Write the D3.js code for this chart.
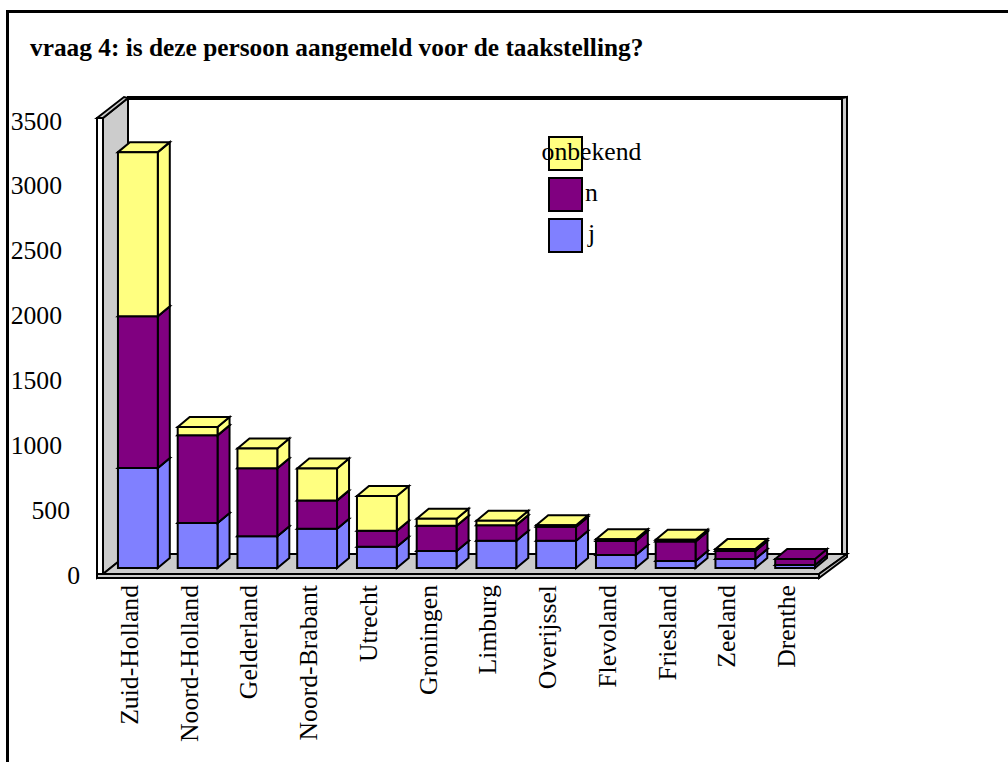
<!DOCTYPE html>
<html>
<head>
<meta charset="utf-8">
<script src="https://cdn.jsdelivr.net/npm/d3@7"></script>
<style>
  html, body { margin: 0; padding: 0; background: #fff; overflow: hidden; }
  text { font-family: "Liberation Serif", serif; fill: #000; }
</style>
</head>
<body>
<div id="chart"></div>
<script>
// Chart values
//=====================================================================
var provinces = ["Zuid-Holland", "Noord-Holland", "Gelderland", "Noord-Brabant", "Utrecht", "Groningen",
    "Limburg", "Overijssel", "Flevoland", "Friesland", "Zeeland", "Drenthe"];
var seriesNames = ["j", "n", "onbekend"];
var jValues = [767, 345, 243, 302, 163, 130, 209, 209, 100, 54, 69, 23];
var nValues = [1166, 673, 522, 217, 123, 194, 120, 107, 107, 150, 61, 46];
var onbekendValues = [1259, 64, 153, 245, 266, 54, 33, 12, 13, 13, 15, 0];
var yTicks = [0, 500, 1000, 1500, 2000, 2500, 3000, 3500];
var legendOrder = ["onbekend", "n", "j"];

var colors = { j: "#8080ff", n: "#800080", onbekend: "#ffff80" };

// Set up the svg
//=====================================================================
var svgWidth = 1008;
var svgHeight = 762;
var fontSize = 25.7;
var lineWidth = 2;

var svg = d3.select("#chart")
    .append("svg")
    .attr("width", svgWidth)
    .attr("height", svgHeight)
    .style("display", "block");

// Outer border, open on the right and at the bottom
svg.append("path")
    .attr("d", "M7.5,762V11.5H1008")
    .attr("fill", "none")
    .attr("stroke", "#000")
    .attr("stroke-width", 3);

svg.append("text")
    .attr("x", 30)
    .attr("y", 56)
    .style("font-size", "25.35px")
    .style("font-weight", "bold")
    .text("vraag 4: is deze persoon aangemeld voor de taakstelling?");

// Scales
//=====================================================================
var xScale = d3.scaleBand()
    .domain(provinces)
    .range([97, 814])
    .paddingInner(1 / 3)
    .paddingOuter(1 / 6);

var yScale = d3.scaleLinear()
    .domain([0, 3500])
    .range([568, 112]);

// tick labels run a little tighter than the bars
var yLabelScale = d3.scaleLinear()
    .domain([0, 3500])
    .range([568, 114]);

// 3D frame: left wall, back wall edge and floor
//=====================================================================
var frame = svg.append("g")
    .attr("stroke", "#000")
    .attr("stroke-width", lineWidth)
    .attr("stroke-linejoin", "miter");

function poly(parent, pts, fill) {
    return parent.append("polygon")
        .attr("points", pts.map(p => p.join(",")).join(" "))
        .attr("fill", fill);
}

poly(frame, [[103, 118], [128, 98], [128, 554], [103, 574]], "#cccccc");
poly(frame, [[97, 118], [103, 118], [103, 574], [97, 578]], "#ffffff");
poly(frame, [[97, 118], [124, 97], [128, 98], [103, 118]], "#cccccc");
poly(frame, [[128, 97], [847, 97], [842, 99], [128, 99]], "#808080");
poly(frame, [[842, 98], [847, 97], [847, 554], [842, 554]], "#cccccc");
poly(frame, [[103, 574], [128, 554], [847, 554], [819, 574]], "#cccccc");
poly(frame, [[97, 574], [819, 574], [819, 578], [97, 578]], "#cccccc");
poly(frame, [[819, 574], [847, 554], [847, 557], [819, 578]], "#cccccc");

// Axes
//=====================================================================
var tickRight = { 4: 62, 3: 70, 1: 80 };

var leftAxis = d3.axisLeft(yLabelScale)
    .tickValues(yTicks)
    .tickFormat(d3.format("d"))
    .tickSize(0);

svg.append("g")
    .call(leftAxis)
    .call(g => g.select(".domain").remove())
    .selectAll("text")
    .attr("x", d => tickRight[String(d).length])
    .attr("dy", 15)
    .style("font-size", fontSize + "px")
    .style("font-family", "Liberation Serif");

var bottomAxis = d3.axisBottom(xScale).tickSize(0);

svg.append("g")
    .attr("transform", "translate(11,0)")
    .call(bottomAxis)
    .call(g => g.select(".domain").remove())
    .selectAll("text")
    .attr("transform", "rotate(-90)")
    .attr("x", -585)
    .attr("y", 0)
    .attr("dy", 0)
    .attr("text-anchor", "end")
    .style("font-size", fontSize + "px")
    .style("font-family", "Liberation Serif");

// Stacked 3D bars
//=====================================================================
var rows = provinces.map(function (name, i) {
    return { province: name, j: jValues[i], n: nValues[i], onbekend: onbekendValues[i] };
});

var stacked = d3.stack().keys(seriesNames)(rows);

var barShiftX = 11;  // front face sits a little into the floor
var depthX = 12;
var depthY = 10;

var bars = svg.append("g")
    .attr("stroke", "#000")
    .attr("stroke-width", lineWidth)
    .attr("stroke-linejoin", "miter");

stacked.forEach(function (layer) {
    var g = bars.append("g").attr("fill", colors[layer.key]);
    layer.forEach(function (d) {
        if (d[1] - d[0] <= 0) return;
        var x0 = xScale(d.data.province) + barShiftX;
        var x1 = x0 + xScale.bandwidth();
        var yb = yScale(d[0]);
        var yt = yScale(d[1]);
        // side, top, then front
        poly(g, [[x1, yb], [x1 + depthX, yb - depthY], [x1 + depthX, yt - depthY], [x1, yt]], colors[layer.key]);
        poly(g, [[x0, yt], [x0 + depthX, yt - depthY], [x1 + depthX, yt - depthY], [x1, yt]], colors[layer.key]);
        poly(g, [[x0, yb], [x1, yb], [x1, yt], [x0, yt]], colors[layer.key]);
    });
});

// Legend
//=====================================================================
var legendY = d3.scalePoint()
    .domain(legendOrder)
    .range([137, 219]);

var legend = svg.append("g");

legend.selectAll("rect")
    .data(legendOrder)
    .enter()
    .append("rect")
    .attr("x", 549)
    .attr("y", d => legendY(d))
    .attr("width", 33)
    .attr("height", 33)
    .attr("fill", d => colors[d])
    .attr("stroke", "#000")
    .attr("stroke-width", lineWidth);

legend.selectAll("text")
    .data(legendOrder)
    .enter()
    .append("text")
    .attr("x", 591.5)
    .attr("y", d => legendY(d) + 23)
    .attr("text-anchor", "middle")
    .style("font-size", fontSize + "px")
    .text(d => d);
</script>
</body>
</html>
